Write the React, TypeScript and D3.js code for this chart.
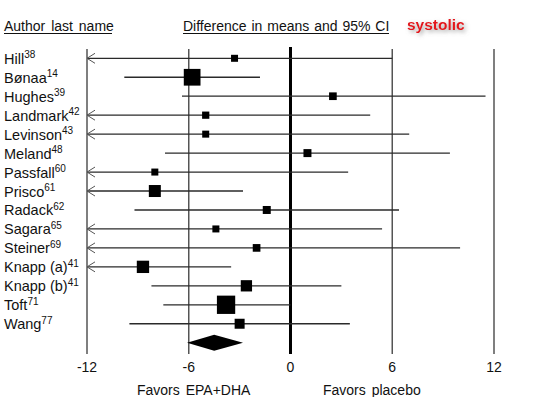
import React from 'react';
import * as d3 from 'd3';

// study rows (top to bottom)
const studies = ['Hill', 'Bønaa', 'Hughes', 'Landmark', 'Levinson', 'Meland', 'Passfall', 'Prisco', 'Radack', 'Sagara', 'Steiner', 'Knapp (a)', 'Knapp (b)', 'Toft', 'Wang'];
const refs = ['38', '14', '39', '42', '43', '48', '60', '61', '62', '65', '69', '41', '41', '71', '77'];
const means = [-3.3, -5.8, 2.5, -5.0, -5.0, 1.0, -8.0, -8.0, -1.4, -4.4, -2.0, -8.7, -2.6, -3.8, -3.0];
const lower = [-13.5, -9.8, -6.4, -14.0, -13.0, -7.4, -15.0, -13.2, -9.2, -14.5, -13.8, -13.9, -8.2, -7.5, -9.5];
const upper = [6.0, -1.8, 11.5, 4.7, 7.0, 9.4, 3.4, -2.8, 6.4, 5.4, 10.0, -3.5, 3.0, 0.0, 3.5];
const weights = [3.0, 17.1, 3.6, 3.2, 3.0, 3.9, 3.0, 8.8, 3.9, 3.0, 3.6, 9.3, 7.8, 20.5, 6.1];

// pooled estimate
const pooled = { mean: -4.5, lower: -6.1, upper: -2.8 };

const ticks = [-12, -6, 0, 6, 12];

const FONT = '"Liberation Sans", Arial, sans-serif';

const App: React.FC = () => {
  const width = 548;
  const height = 397;

  const x = d3.scaleLinear().domain([-12, 12]).range([87, 494]);
  const y = d3.scalePoint<string>()
    .domain([...studies, 'Overall'])
    .range([58.3, 342.7]);
  const boxSize = d3.scaleSqrt().domain([0, 20.5]).range([0, 18.3]);

  const lineTop = 48;
  const lineBottom = 354;
  const pooledY = y('Overall') as number;
  const halfH = 8;
  const diamond = d3.line()([
    [x(pooled.lower), pooledY],
    [x(pooled.mean), pooledY - halfH],
    [x(pooled.upper), pooledY],
    [x(pooled.mean), pooledY + halfH],
  ]) + 'Z';

  return (
    <svg width={width} height={height} style={{ position: 'absolute', left: 0, top: 0, background: '#fff' }} fontFamily={FONT}>
      <defs>
        <filter id="glow" x="-20%" y="-40%" width="150%" height="200%">
          <feDropShadow dx="2" dy="2" stdDeviation="2" floodColor="#888" floodOpacity="0.8" />
        </filter>
      </defs>

      {/* headers */}
      <text x={4} y={31} fontSize={14} fill="#111" wordSpacing={2}>Author last name</text>
      <line x1={4} x2={112} y1={33.5} y2={33.5} stroke="#111" strokeWidth={1} />
      <text x={183} y={31} fontSize={14} fill="#111" wordSpacing={1}>Difference in means and 95% CI</text>
      <line x1={183} x2={389} y1={33.5} y2={33.5} stroke="#111" strokeWidth={1} />
      <text x={407} y={30} fontSize={15.5} fontWeight="bold" fill="#e3151a" filter="url(#glow)">systolic</text>

      {/* reference lines */}
      {ticks.map((t) => (
        <line key={t} x1={x(t)} x2={x(t)} y1={t === 0 ? lineTop - 1 : lineTop + 1} y2={lineBottom}
          stroke={t === 0 ? '#000' : '#555'} strokeWidth={t === 0 ? 3 : 1.5} />
      ))}

      {/* tick labels */}
      {ticks.map((t) => (
        <text key={'l' + t} x={x(t)} y={372} fontSize={14} textAnchor="middle" fill="#111">{t}</text>
      ))}
      <text x={137} y={394.5} fontSize={14} fill="#111" wordSpacing={2}>Favors EPA+DHA</text>
      <text x={323} y={394.5} fontSize={14} fill="#111" wordSpacing={2}>Favors placebo</text>

      {/* study rows */}
      {studies.map((s, i) => {
        const cy = y(s) as number;
        const lo = Math.max(lower[i], -12);
        const hi = Math.min(upper[i], 12);
        const truncated = lower[i] < -12;
        const sz = boxSize(weights[i]);
        return (
          <g key={s}>
            <text x={4} y={cy + 5.5} fontSize={14.5} fill="#111">
              {s}
              <tspan dy={-5.5} fontSize={10}>{refs[i]}</tspan>
            </text>
            <line x1={x(lo)} x2={x(hi)} y1={cy} y2={cy} stroke="#2a2a2a" strokeWidth={1.3} />
            {truncated && (
              <path d={`M${x(-12) + 8},${cy - 5}L${x(-12)},${cy}L${x(-12) + 8},${cy + 5}`}
                fill="none" stroke="#555" strokeWidth={1} />
            )}
            <rect x={x(means[i]) - sz / 2} y={cy - sz / 2} width={sz} height={sz} fill="#000" />
          </g>
        );
      })}

      {/* pooled diamond */}
      <path d={diamond} fill="#000" />
    </svg>
  );
};

export default App;
